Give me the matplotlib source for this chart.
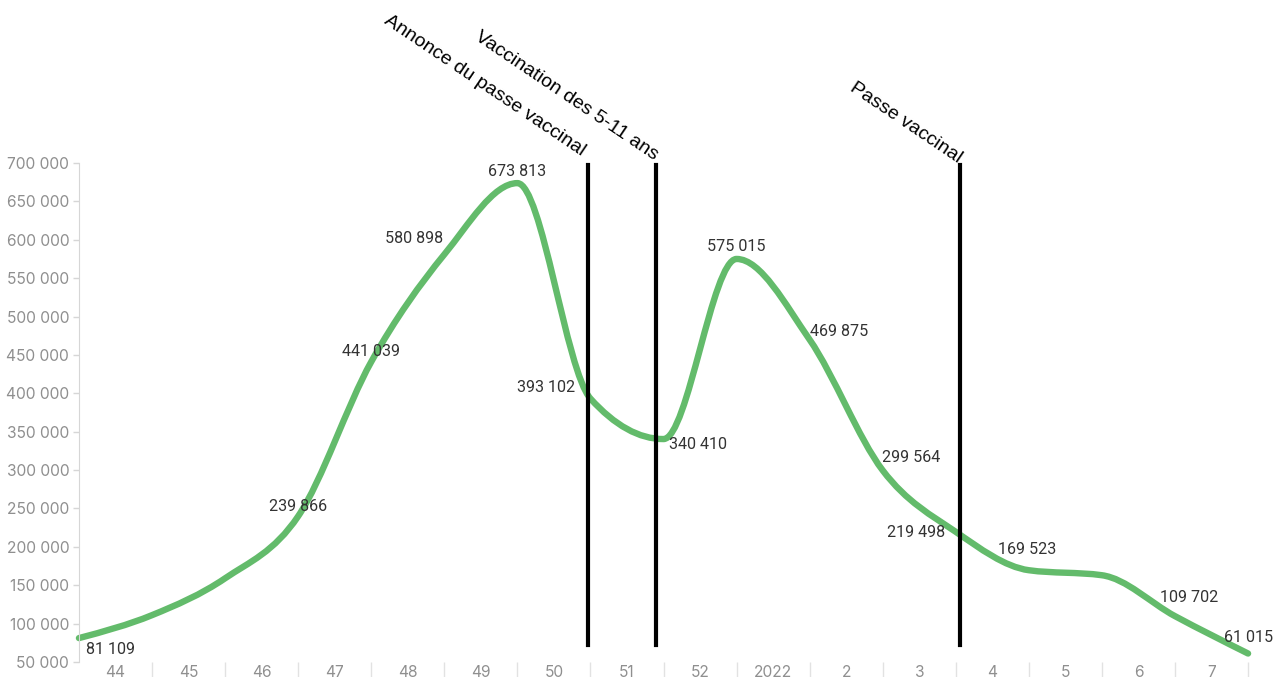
import numpy as np
import matplotlib.pyplot as plt
from matplotlib.path import Path
from matplotlib.patches import PathPatch

# Semaines affichées sur l'axe des x (une bande par semaine)
SEMAINES = ["44", "45", "46", "47", "48", "49", "50", "51", "52",
            "2022", "2", "3", "4", "5", "6", "7"]

# Nombre de cas, un point à chaque limite de semaine
CAS = [81109, 111000, 159000, 239866, 441039, 580898, 673813, 393102,
       340410, 575015, 469875, 299564, 219498, 169523, 163000, 109702, 61015]

# Points dont la valeur est écrite sur le graphique
AFFICHER = [True, False, False, True, True, True, True, True,
            True, True, True, True, True, True, False, True, True]

EVENEMENTS = ["Annonce du passe vaccinal", "Vaccination des 5-11 ans",
              "Passe vaccinal"]
DATES_EVENEMENTS = [6.96, 7.9, 12.06]

# Point d'ancrage des libellés (x en semaines, y en fraction des axes)
ANCRES_LIBELLES = [(6.87, 1.014), (7.87, 1.006), (12.03, 1.0)]

# Décalage des étiquettes (pixels) et alignement horizontal
DECALAGES = [(7, -11, "left"), None, None, (0, 10, "center"),
             (0, 10, "center"), (-30, 16, "center"), (0, 12, "center"),
             (-44, 11, "center"), (34, -5, "center"), (0, 12, "center"),
             (29, 8, "center"), (28, 13, "center"), (-40, -1, "center"),
             (-2, 21, "center"), None, (14, 19, "center"), (0, 16, "center")]

VERT = "#63bb6b"
GRIS = "#8f8f8f"
GRIS_CLAIR = "#d6d6d6"


def format_milliers(valeur):
    """
    Formater un nombre avec un espace pour les milliers
    :param valeur:
    :return str:
    """
    return f"{int(valeur):,}".replace(",", " ")


def courbe_monotone(x, y):
    """
    Construire une courbe lissée (cubique monotone) passant par les points
    :param x:
    :param y:
    :return Path:
    """
    x = np.asarray(x, dtype=float)
    y = np.asarray(y, dtype=float)
    n = len(x)
    h = np.diff(x)
    s = np.diff(y) / h
    t = np.zeros(n)
    for i in range(1, n - 1):
        p = (s[i - 1] * h[i] + s[i] * h[i - 1]) / (h[i - 1] + h[i])
        t[i] = (np.sign(s[i - 1]) + np.sign(s[i])) * min(
            abs(s[i - 1]), abs(s[i]), 0.5 * abs(p))
    t[0] = (3 * s[0] - t[1]) / 2
    t[-1] = (3 * s[-1] - t[-2]) / 2

    sommets = [(x[0], y[0])]
    codes = [Path.MOVETO]
    for i in range(n - 1):
        d = h[i] / 3
        sommets += [(x[i] + d, y[i] + t[i] * d),
                    (x[i + 1] - d, y[i + 1] - t[i + 1] * d),
                    (x[i + 1], y[i + 1])]
        codes += [Path.CURVE4] * 3
    return Path(sommets, codes)


def tracer():
    fig = plt.figure(figsize=(12.88, 6.77), dpi=100)
    ax = fig.add_axes([0.0613, 0.0222, 0.9077, 0.737])

    x = np.arange(len(CAS))
    courbe = PathPatch(courbe_monotone(x, CAS), facecolor="none",
                       edgecolor=VERT, lw=4.6, capstyle="round",
                       joinstyle="round", clip_on=False, zorder=2)
    ax.add_patch(courbe)

    # Valeurs écrites à côté des points
    for xi, valeur, afficher, dec in zip(x, CAS, AFFICHER, DECALAGES):
        if not afficher:
            continue
        dx, dy, ha = dec
        ax.annotate(format_milliers(valeur), (xi, valeur),
                    xytext=(dx, dy), textcoords="offset pixels",
                    ha=ha, va="center", fontsize=11.6, color="#333333",
                    family=["Roboto", "DejaVu Sans"], annotation_clip=False,
                    zorder=4)

    # Lignes verticales et libellés des événements
    for libelle, date, ancre in zip(EVENEMENTS, DATES_EVENEMENTS,
                                    ANCRES_LIBELLES):
        ax.axvline(date, ymin=0.034, ymax=0.996, color="black", lw=3,
                   zorder=3, clip_on=False)
        ax.text(ancre[0], ancre[1], libelle,
                transform=ax.get_xaxis_transform(),
                rotation=-34, rotation_mode="anchor", ha="right",
                va="baseline", fontsize=14, family="Liberation Sans",
                color="black")

    ax.set_xlim(0, len(SEMAINES))
    ax.set_ylim(50000, 700000)

    ax.set_yticks(np.arange(50000, 700001, 50000))
    ax.set_yticklabels([format_milliers(v) for v in ax.get_yticks()])
    ax.tick_params(axis="y", length=4, width=1, color=GRIS_CLAIR,
                   labelcolor=GRIS, labelsize=11.2, pad=3)

    # Séparateurs entre semaines + libellés centrés dans chaque bande
    ax.set_xticks(np.arange(1, len(SEMAINES) + 1))
    ax.set_xticklabels([])
    ax.set_xticks(np.arange(len(SEMAINES)) + 0.5, minor=True)
    ax.set_xticklabels(SEMAINES, minor=True)
    ax.tick_params(axis="x", which="major", length=12, width=1,
                   color="#e2e2e2")
    ax.tick_params(axis="x", which="minor", length=0, labelcolor=GRIS,
                   labelsize=11.2, pad=2)

    for etiquette in ax.get_xticklabels(minor=True) + ax.get_yticklabels():
        etiquette.set_family(["Inter", "DejaVu Sans"])

    for cote in ["top", "right", "bottom"]:
        ax.spines[cote].set_visible(False)
    ax.spines["left"].set_color(GRIS_CLAIR)

    fig.savefig("out.png", dpi=100)


def main():
    tracer()


if __name__ == "__main__":
    main()
